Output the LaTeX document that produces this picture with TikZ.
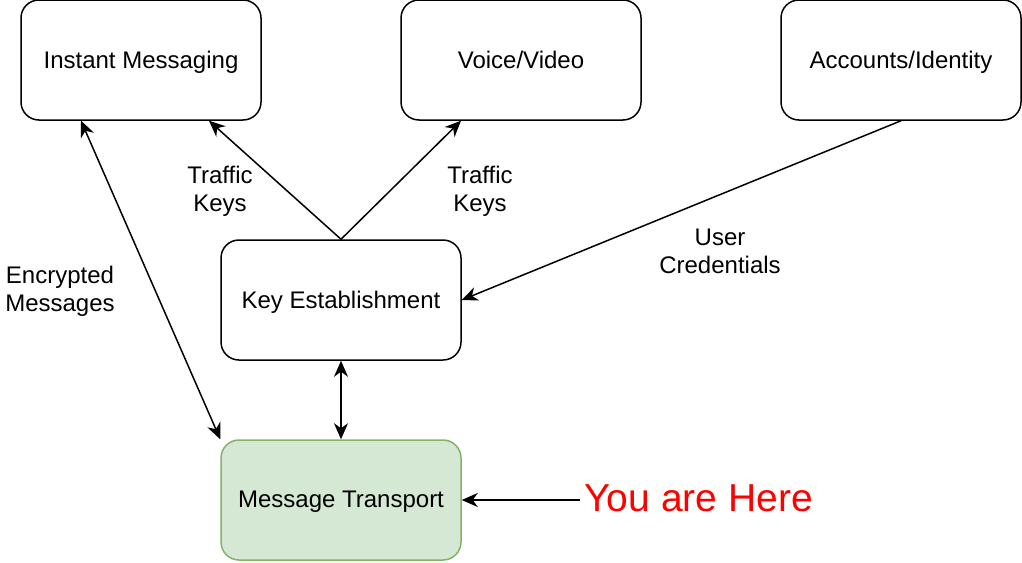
\documentclass[tikz,border=0pt]{standalone}
\usepackage{fontspec}
\setmainfont{Liberation Sans}
\usetikzlibrary{arrows.meta}
\definecolor{mtfill}{HTML}{D5E8D4}
\definecolor{mtdraw}{HTML}{82B366}
\begin{document}
\begin{tikzpicture}[
    x=0.5pt,y=-0.5pt,
    font=\fontsize{12}{14}\selectfont,
    block/.style={rectangle,rounded corners=9pt,draw=black,line width=0.75pt,fill=white,minimum width=120pt,minimum height=60pt,inner sep=0pt,text depth=0.5pt},
    mtblock/.style={block,draw=mtdraw,fill=mtfill},
    lbl/.style={align=center,inner sep=0pt},
    arr/.style={-{Stealth[length=8pt,width=7pt,inset=2.5pt]},draw=black,line width=0.75pt},
    biarr/.style={{Stealth[length=8pt,width=7pt,inset=2.5pt]}-{Stealth[length=8pt,width=7pt,inset=2.5pt]},draw=black,line width=0.75pt}
]
    \useasboundingbox (0,0) rectangle (1022,562);

    \node[block] (im) at (141,60) {Instant Messaging};
    \node[block] (vv) at (521,60) {Voice/Video};
    \node[block] (acc) at (901,60) {Accounts/Identity};
    \node[block] (ke) at (341,300) {Key Establishment};
    \node[mtblock] (mt) at (341,500) {Message Transport};

    \node[lbl] (tk1) at (220,191) {Traffic\\Keys};
    \node[lbl] (tk2) at (480,191) {Traffic\\Keys};
    \node[lbl] (uc) at (720,251) {User\\Credentials};
    \node[lbl] (em) at (60,291) {Encrypted\\Messages};
    \node[anchor=west,inner sep=0pt,text=red,font=\fontsize{19.5}{22}\selectfont] (here) at (584,498) {You are Here};

    \draw[arr] (ke.north) -- ([xshift=34pt]im.south);
    \draw[arr] (ke.north) -- ([xshift=-30pt]vv.south);
    \draw[arr] (acc.south) -- (ke.east);
    \draw[biarr] (ke.south) -- (mt.north);
    \draw[biarr] ([xshift=-30pt]im.south) -- (mt.north west);
    \draw[arr] ([xshift=-2pt]mt.east -| here.west) -- (mt.east);
\end{tikzpicture}
\end{document}
